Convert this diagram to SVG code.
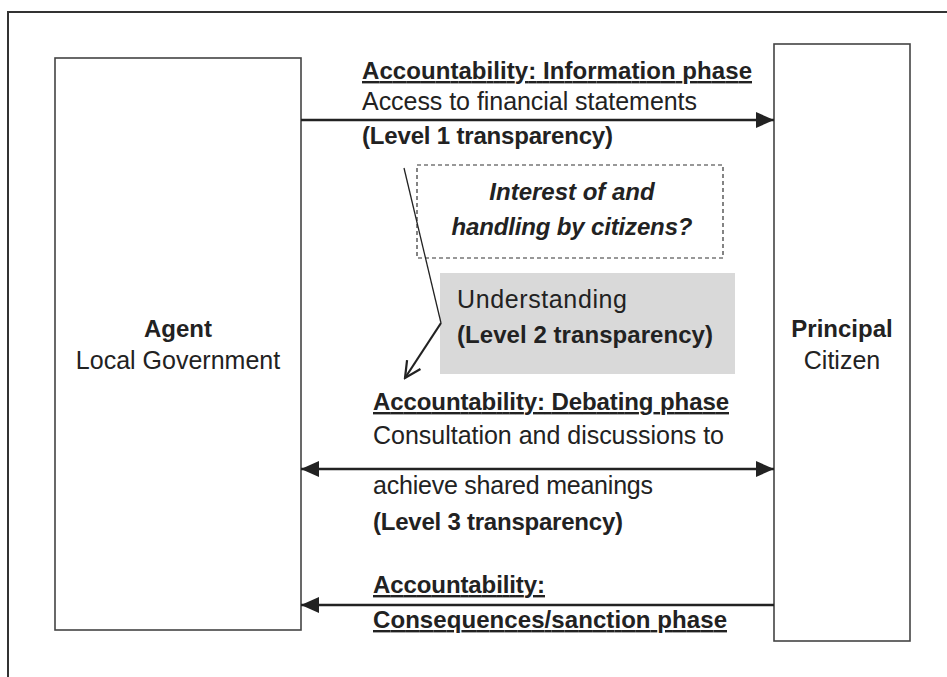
<svg xmlns="http://www.w3.org/2000/svg" width="947" height="677" viewBox="0 0 947 677">
<style>
text{font-family:"Liberation Sans",Arial,sans-serif;font-size:25px;fill:#222}
.b{font-weight:bold;font-size:24px}
.u{text-decoration:underline}
.bi{font-weight:bold;font-style:italic;font-size:24px}
.box{fill:#fff;stroke:#444;stroke-width:1.6}
.conn{stroke:#222;stroke-width:2.7;fill:none}
</style>
<defs>
<marker id="ah" viewBox="0 0 18 16" refX="18" refY="8" markerWidth="18" markerHeight="16" markerUnits="userSpaceOnUse" orient="auto-start-reverse">
<path d="M0,0 L18,8 L0,16 Z" fill="#222"/>
</marker>
<marker id="open" viewBox="0 0 20 20" refX="18" refY="10" markerWidth="20" markerHeight="20" markerUnits="userSpaceOnUse" orient="auto">
<path d="M2,2 L18,10 L2,18" fill="none" stroke="#222" stroke-width="2.2"/>
</marker>
</defs>
<rect width="947" height="677" fill="#fff"/>
<path d="M8,677 V12 H947" fill="none" stroke="#333" stroke-width="2"/>

<g id="agent">
<rect class="box" x="55" y="58" width="246" height="572"/>
<text class="b" x="178" y="337" text-anchor="middle">Agent</text>
<text x="178" y="369" text-anchor="middle">Local Government</text>
</g>

<g id="principal">
<rect class="box" x="774" y="44" width="136" height="597"/>
<text class="b" x="842" y="337" text-anchor="middle">Principal</text>
<text x="842" y="369" text-anchor="middle">Citizen</text>
</g>

<g id="interest">
<rect x="417" y="165" width="306" height="93" fill="#fff" stroke="#333" stroke-width="1.2" stroke-dasharray="4,3"/>
<text class="bi" x="572" y="200" text-anchor="middle">Interest of and</text>
<text class="bi" x="572" y="235" text-anchor="middle" textLength="241">handling by citizens?</text>
</g>

<g id="understanding">
<rect x="440" y="273" width="295" height="101" fill="#d9d9d9"/>
<text x="457" y="308" textLength="170">Understanding</text>
<text class="b" x="457" y="343" textLength="256">(Level 2 transparency)</text>
</g>

<g id="connectors">
<line class="conn" x1="301" y1="120" x2="774" y2="120" marker-end="url(#ah)"/>
<line class="conn" x1="301" y1="469" x2="774" y2="469" marker-start="url(#ah)" marker-end="url(#ah)"/>
<line class="conn" x1="774" y1="605" x2="301" y2="605" marker-end="url(#ah)"/>
<line x1="404" y1="168" x2="441" y2="323" stroke="#222" stroke-width="1.3"/>
<line x1="441" y1="323" x2="405" y2="378" stroke="#222" stroke-width="2.2" marker-end="url(#open)"/>
</g>

<g id="info-label">
<text class="b u" x="362" y="79" textLength="390">Accountability: Information phase</text>
<text x="362" y="110" textLength="335">Access to financial statements</text>
<text class="b" x="362" y="144" textLength="251">(Level 1 transparency)</text>
</g>

<g id="debating-label">
<text class="b u" x="373" y="410" textLength="356">Accountability: Debating phase</text>
<text x="373" y="444" textLength="351">Consultation and discussions to</text>
<text x="373" y="494" textLength="280">achieve shared meanings</text>
<text class="b" x="373" y="530" textLength="250">(Level 3 transparency)</text>
</g>

<g id="sanction-label">
<text class="b u" x="373" y="593" textLength="172">Accountability:</text>
<text class="b u" x="373" y="628" textLength="354">Consequences/sanction phase</text>
</g>
</svg>
